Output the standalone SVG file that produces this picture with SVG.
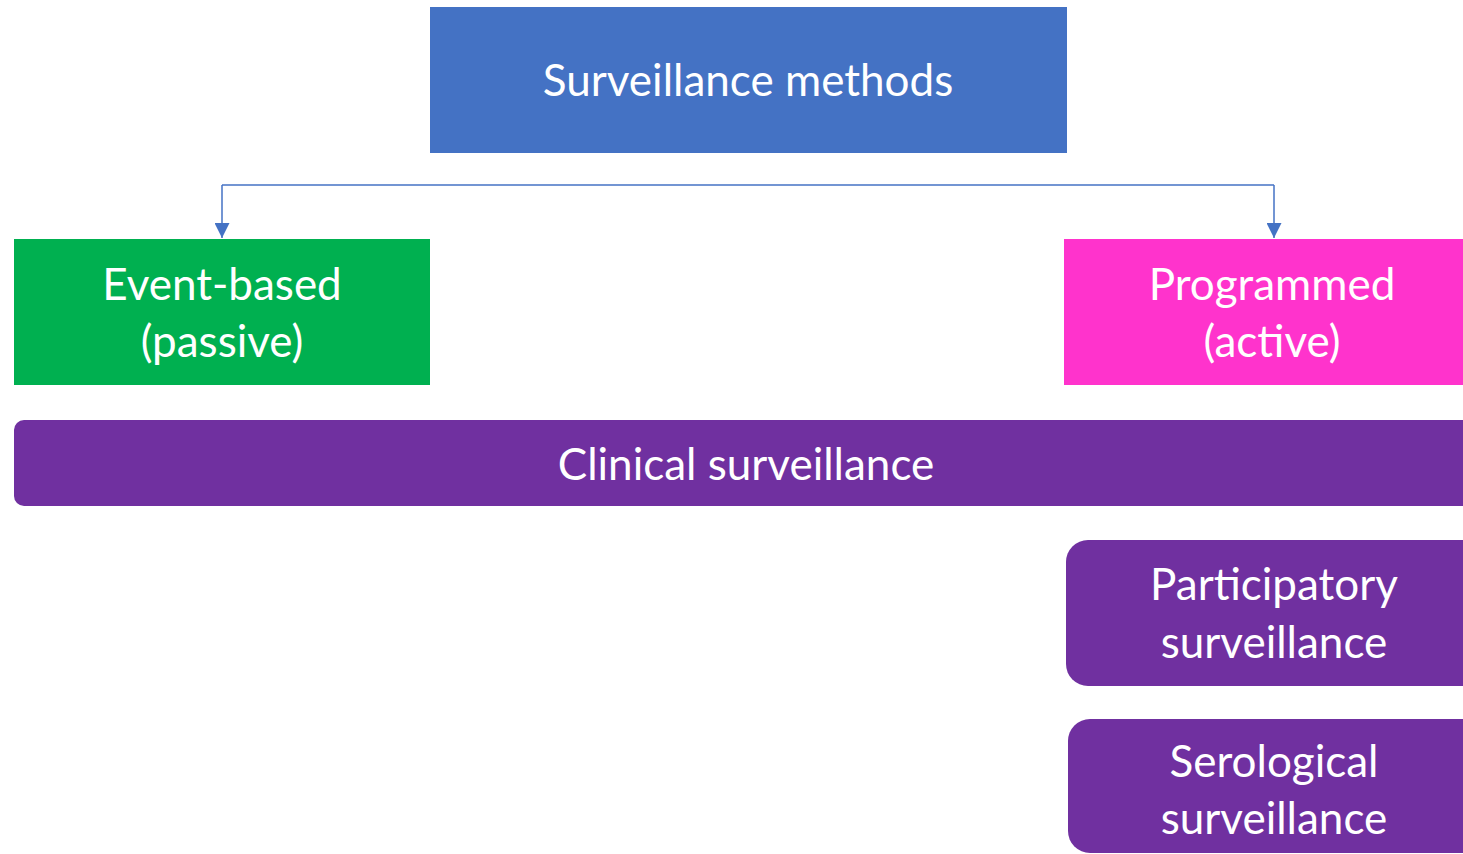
<svg xmlns="http://www.w3.org/2000/svg" width="1463" height="854" viewBox="0 0 1463 854">
<style>
text{font-family:Lato,"Open Sans","Liberation Sans",sans-serif;font-size:44px;fill:#fff;text-anchor:middle}
.conn{fill:none;stroke:#4472C4;stroke-width:1.5}
</style>
<defs>
<marker id="arr" viewBox="0 0 15 15" refX="15" refY="7.5" markerWidth="15" markerHeight="15" markerUnits="userSpaceOnUse" orient="auto">
<path d="M0,0 L15,7.5 L0,15 Z" fill="#4472C4"/>
</marker>
</defs>
<rect width="1463" height="854" fill="#fff"/>
<g id="connectors">
<path class="conn" d="M222,185 H1274"/>
<path class="conn" d="M222,185 V238" marker-end="url(#arr)"/>
<path class="conn" d="M1274,185 V238" marker-end="url(#arr)"/>
</g>
<g id="root">
<rect x="430" y="7" width="637" height="146" fill="#4472C4"/>
<text x="748" y="96">Surveillance methods</text>
</g>
<g id="event">
<rect x="14" y="239" width="416" height="146" fill="#00B050"/>
<text x="222" y="300">Event-based</text>
<text x="222" y="357">(passive)</text>
</g>
<g id="programmed">
<rect x="1064" y="239" width="410" height="146" fill="#FF33CC"/>
<text x="1272" y="300">Programmed</text>
<text x="1272" y="357">(active)</text>
</g>
<g id="clinical">
<rect x="14" y="420" width="1470" height="86" rx="10" fill="#7030A0"/>
<text x="746" y="480">Clinical surveillance</text>
</g>
<g id="participatory">
<rect x="1066" y="540" width="420" height="146" rx="22" fill="#7030A0"/>
<text x="1274" y="600">Participatory</text>
<text x="1274" y="658">surveillance</text>
</g>
<g id="serological">
<rect x="1068" y="719" width="420" height="134" rx="22" fill="#7030A0"/>
<text x="1274" y="777">Serological</text>
<text x="1274" y="834">surveillance</text>
</g>
</svg>
